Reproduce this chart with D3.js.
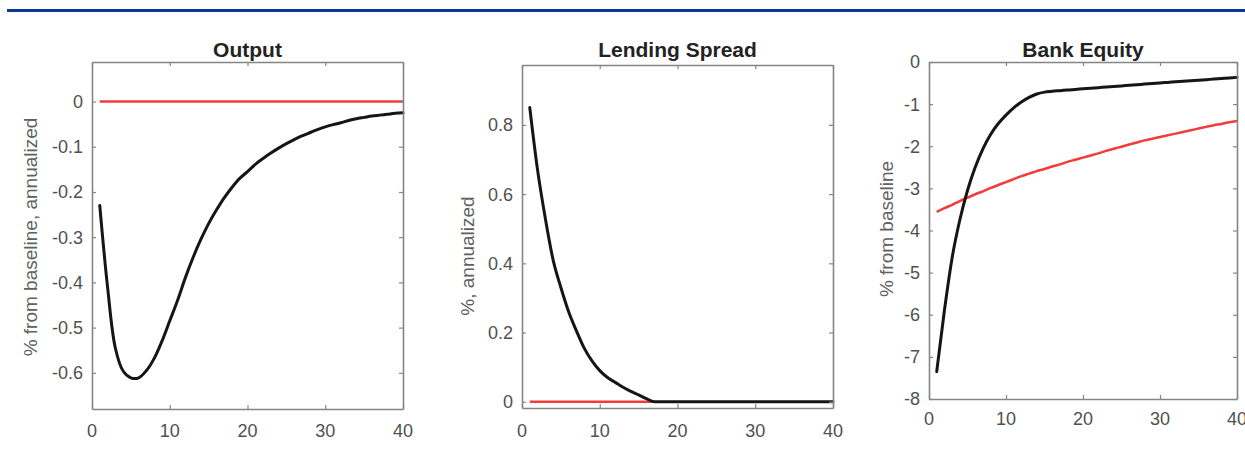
<!DOCTYPE html>
<html>
<head>
<meta charset="utf-8">
<script src="https://cdn.jsdelivr.net/npm/d3@7"></script>
<style>
  body { margin: 0; background: #fff; }
  svg { display: block; }
  text { font-family: "Liberation Sans", Arial, Helvetica, sans-serif; }
</style>
</head>
<body>
<div id="vis"></div>
<script>
// quarters after the shock
var quarters = [1, 2, 3, 4, 5, 6, 7, 8, 9, 10, 11, 12, 13, 14, 15, 16, 17, 18, 19, 20,
                21, 22, 23, 24, 25, 26, 27, 28, 29, 30, 31, 32, 33, 34, 35, 36, 37, 38, 39, 40];
var xTicks = [0, 10, 20, 30, 40];

// Output, % from baseline, annualized
var outputBlack = [-0.23, -0.41, -0.545, -0.596, -0.611, -0.611, -0.595, -0.568, -0.53, -0.485,
                   -0.44, -0.39, -0.345, -0.305, -0.27, -0.24, -0.213, -0.19, -0.17, -0.155,
                   -0.139, -0.126, -0.114, -0.103, -0.093, -0.084, -0.076, -0.069, -0.062, -0.056,
                   -0.051, -0.047, -0.042, -0.038, -0.035, -0.032, -0.030, -0.028, -0.026, -0.025];
var outputRed = [0, 0, 0, 0, 0, 0, 0, 0, 0, 0, 0, 0, 0, 0, 0, 0, 0, 0, 0, 0,
                 0, 0, 0, 0, 0, 0, 0, 0, 0, 0, 0, 0, 0, 0, 0, 0, 0, 0, 0, 0];
var outputTicks = [-0.6, -0.5, -0.4, -0.3, -0.2, -0.1, 0];

// Lending spread, %, annualized
var spreadBlack = [0.85, 0.67, 0.53, 0.41, 0.33, 0.26, 0.205, 0.155, 0.118, 0.09,
                   0.07, 0.056, 0.042, 0.03, 0.02, 0.009, 0, 0, 0, 0,
                   0, 0, 0, 0, 0, 0, 0, 0, 0, 0, 0, 0, 0, 0, 0, 0, 0, 0, 0, 0];
var spreadRed = [0, 0, 0, 0, 0, 0, 0, 0, 0, 0, 0, 0, 0, 0, 0, 0, 0];
var spreadTicks = [0, 0.2, 0.4, 0.6, 0.8];

// Bank equity, % from baseline
var equityBlack = [-7.35, -5.9, -4.65, -3.75, -3.05, -2.5, -2.06, -1.72, -1.46, -1.26,
                   -1.09, -0.95, -0.84, -0.76, -0.715, -0.695, -0.68, -0.665, -0.65, -0.637,
                   -0.623, -0.609, -0.595, -0.581, -0.567, -0.553, -0.539, -0.525, -0.511, -0.497,
                   -0.484, -0.471, -0.458, -0.445, -0.432, -0.419, -0.406, -0.393, -0.38, -0.365];
var equityRed = [-3.56, -3.47, -3.39, -3.30, -3.22, -3.14, -3.07, -2.99, -2.92, -2.85,
                 -2.78, -2.71, -2.65, -2.59, -2.54, -2.48, -2.43, -2.37, -2.32, -2.27,
                 -2.22, -2.17, -2.11, -2.06, -2.01, -1.96, -1.91, -1.86, -1.82, -1.78,
                 -1.74, -1.70, -1.66, -1.62, -1.58, -1.54, -1.50, -1.47, -1.43, -1.40];
var equityTicks = [-8, -7, -6, -5, -4, -3, -2, -1, 0];

var panels = [
    { title: "Output", ylabel: "% from baseline, annualized",
      left: 92, top: 62, right: 403, bottom: 409, ymin: -0.68, ymax: 0.0875,
      yticks: outputTicks, black: outputBlack, red: outputRed, xlabY: 437, ylabX: 30, ylabY: 237,
      curve: d3.curveCatmullRom.alpha(0.5) },
    { title: "Lending Spread", ylabel: "%, annualized",
      left: 522, top: 65, right: 833, bottom: 408, ymin: -0.018, ymax: 0.973,
      yticks: spreadTicks, black: spreadBlack, red: spreadRed, xlabY: 437, ylabX: 467, ylabY: 256,
      curve: d3.curveMonotoneX },
    { title: "Bank Equity", ylabel: "% from baseline",
      left: 929, top: 62, right: 1237, bottom: 399, ymin: -8, ymax: 0,
      yticks: equityTicks, black: equityBlack, red: equityRed, xlabY: 425, ylabX: 886, ylabY: 229,
      curve: d3.curveMonotoneX }
];

var svg = d3.select("#vis")
    .append("svg")
    .attr("width", 1245)
    .attr("height", 450);

// blue rule across the top
svg.append("line")
    .attr("x1", 7).attr("x2", 1245)
    .attr("y1", 10.5).attr("y2", 10.5)
    .attr("stroke", "#0b3893")
    .attr("stroke-width", 3);

var axisColor = "#858585";
var labelColor = "#505050";

panels.forEach(function (p) {
    var x = d3.scaleLinear().domain([0, 40]).range([p.left, p.right]);
    var y = d3.scaleLinear().domain([p.ymin, p.ymax]).range([p.bottom, p.top]);
    var g = svg.append("g");

    var line = d3.line()
        .x(function (d, i) { return x(quarters[i]); })
        .y(function (d) { return y(d); })
        .curve(p.curve);

    g.append("path")
        .datum(p.red)
        .attr("d", line)
        .attr("fill", "none")
        .attr("stroke", "#f23b3b")
        .attr("stroke-width", 2.5);

    g.append("path")
        .datum(p.black)
        .attr("d", line)
        .attr("fill", "none")
        .attr("stroke", "#151515")
        .attr("stroke-width", 3)
        .attr("stroke-linejoin", "round")
        .attr("stroke-linecap", "round");

    // matlab style box with inward ticks on all four sides
    var axes = [
        { a: d3.axisBottom(x), t: "translate(0," + p.bottom + ")" },
        { a: d3.axisTop(x), t: "translate(0," + p.top + ")" },
        { a: d3.axisLeft(y), t: "translate(" + p.left + ",0)" },
        { a: d3.axisRight(y), t: "translate(" + p.right + ",0)" }
    ];
    axes.forEach(function (ax, k) {
        var horiz = k < 2;
        ax.a.tickValues(horiz ? xTicks : p.yticks)
            .tickSizeInner(-4).tickSizeOuter(0).tickFormat("");
        var ag = g.append("g").attr("transform", ax.t).call(ax.a);
        ag.select(".domain").attr("stroke", axisColor).attr("stroke-width", 1.6);
        ag.selectAll(".tick line").attr("stroke", axisColor).attr("stroke-width", 1.2);
    });

    g.selectAll(".xlab")
        .data(xTicks)
        .enter()
        .append("text")
        .attr("x", function (d) { return x(d); })
        .attr("y", p.xlabY)
        .attr("text-anchor", "middle")
        .style("font-size", "18px")
        .attr("fill", labelColor)
        .text(function (d) { return d; });

    g.selectAll(".ylab")
        .data(p.yticks)
        .enter()
        .append("text")
        .attr("x", p.left - 9)
        .attr("y", function (d) { return y(d); })
        .attr("dy", "0.36em")
        .attr("text-anchor", "end")
        .style("font-size", "18px")
        .attr("fill", labelColor)
        .text(function (d) { return d === 0 ? "0" : String(d); });

    g.append("text")
        .attr("x", (p.left + p.right) / 2)
        .attr("y", 57)
        .attr("text-anchor", "middle")
        .style("font-size", "21px")
        .style("font-weight", "bold")
        .attr("fill", "#222")
        .text(p.title);

    g.append("text")
        .attr("transform", "translate(" + p.ylabX + "," + p.ylabY + ") rotate(-90)")
        .attr("dy", "0.36em")
        .attr("text-anchor", "middle")
        .style("font-size", "19px")
        .attr("fill", "#606060")
        .text(p.ylabel);
});
</script>
</body>
</html>
